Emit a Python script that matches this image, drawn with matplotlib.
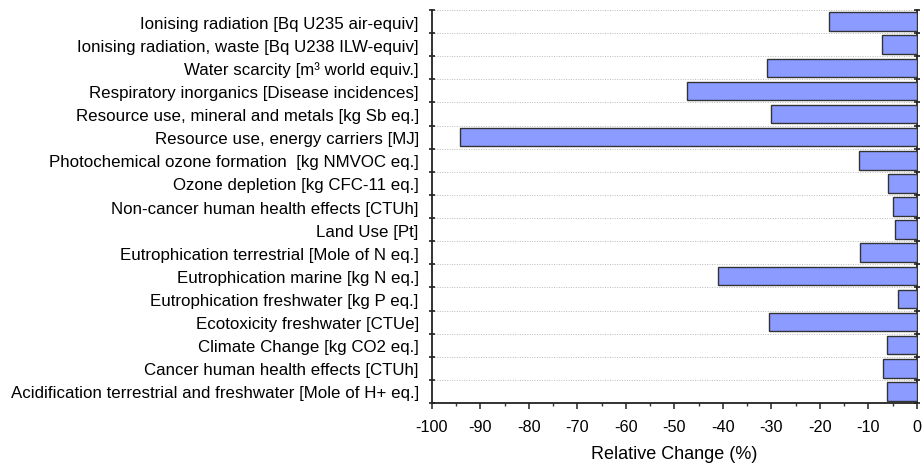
import matplotlib
matplotlib.use("Agg")
import matplotlib.pyplot as plt
import numpy as np
from matplotlib.ticker import MultipleLocator, FixedLocator, NullFormatter

plt.rcParams['font.family'] = ['Liberation Sans', 'DejaVu Sans']
plt.rcParams['axes.unicode_minus'] = False

categories = [
    "Ionising radiation [Bq U235 air-equiv]",
    "Ionising radiation, waste [Bq U238 ILW-equiv]",
    "Water scarcity [m³ world equiv.]",
    "Respiratory inorganics [Disease incidences]",
    "Resource use, mineral and metals [kg Sb eq.]",
    "Resource use, energy carriers [MJ]",
    "Photochemical ozone formation  [kg NMVOC eq.]",
    "Ozone depletion [kg CFC-11 eq.]",
    "Non-cancer human health effects [CTUh]",
    "Land Use [Pt]",
    "Eutrophication terrestrial [Mole of N eq.]",
    "Eutrophication marine [kg N eq.]",
    "Eutrophication freshwater [kg P eq.]",
    "Ecotoxicity freshwater [CTUe]",
    "Climate Change [kg CO2 eq.]",
    "Cancer human health effects [CTUh]",
    "Acidification terrestrial and freshwater [Mole of H+ eq.]",
]
values = [-18.1, -7.3, -30.9, -47.4, -30.0, -94.2, -11.9, -6.0, -4.9, -4.5,
          -11.7, -41.1, -3.9, -30.5, -6.1, -7.0, -6.1]
xticks = list(range(-100, 1, 10))
xlabel = "Relative Change (%)"

fig = plt.figure(figsize=(9.24, 4.64), dpi=100)
ax = fig.add_axes([0.4675, 0.1293, 0.5249, 0.8470])

y = np.arange(len(categories))
ax.barh(y, values, height=0.8, color='#8c9bff', edgecolor='#333333', linewidth=1.0, zorder=3)

ax.set_xlim(-100, 0)
ax.set_ylim(len(categories) - 0.5, -0.5)

# y: boundary ticks (major) and labels at centers (minor)
bounds = np.arange(-0.5, len(categories), 1.0)
ax.yaxis.set_major_locator(FixedLocator(bounds))
ax.yaxis.set_major_formatter(NullFormatter())
ax.yaxis.set_minor_locator(FixedLocator(y))
ax.set_yticklabels(categories, minor=True, fontsize=12.2)
ax.tick_params(axis='y', which='minor', length=0, pad=9.5)
ax.tick_params(axis='y', which='major', direction='inout', length=5, width=1.3,
               left=True, right=True, color='#333333')
ax.grid(axis='y', which='major', linestyle=(0, (1, 1.5)), color='#bbbbbb', linewidth=0.7, zorder=0)

ax.set_xticks(xticks)
ax.xaxis.set_minor_locator(MultipleLocator(5))
ax.tick_params(axis='x', which='major', direction='out', length=4.3, width=1.2, labelsize=11.7, pad=7, color='#333333')
ax.tick_params(axis='x', which='minor', direction='out', length=2.5, width=1.0, color='#333333')
ax.set_xlabel(xlabel, fontsize=13, labelpad=8)

ax.spines['top'].set_visible(False)
for s in ['left', 'right', 'bottom']:
    ax.spines[s].set_linewidth(1.3)
    ax.spines[s].set_color('#222222')

fig.savefig('out.png', dpi=100)
